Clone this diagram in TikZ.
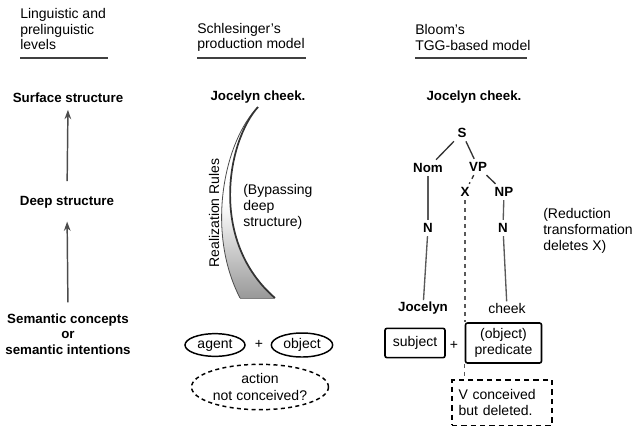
\documentclass[tikz,border=0pt]{standalone}
\usepackage{fontspec}
\setmainfont{Liberation Sans}
\usetikzlibrary{arrows.meta,shapes.geometric}
\begin{document}
\begin{tikzpicture}[x=0.75pt,y=-0.75pt,
  txt/.style={font=\fontsize{10.5}{11.8}\selectfont, inner sep=1pt},
  heavy/.style={font=\fontsize{10}{11.8}\selectfont\bfseries, inner sep=1pt},
  title/.style={txt, anchor=west, align=left, inner sep=0pt},
  rule/.style={line width=0.9pt, black!75},
  uparrow/.style={line width=1.1pt, black!70, -{Stealth[length=7pt,width=5pt]}},
  tnode/.style={heavy, inner sep=2.5pt},
  branch/.style={line width=1pt, black!80},
  stem/.style={line width=1pt, black!65},
  oval/.style={ellipse, draw, line width=1.1pt, inner sep=0pt, txt},
  plainbox/.style={draw, line width=1.2pt, rounded corners=1.5pt, txt, align=center},
  ghostbox/.style={draw, dashed, line width=1pt, dash pattern=on 4pt off 3pt, txt, align=left}
]
\useasboundingbox (0,0) rectangle (641,426);

% ---------- column headings ----------
\node[title] (t1) at (20,29) {Linguistic and\\prelinguistic\\levels};
\node[title] (t2) at (197,37.5) {Schlesinger's\\production model};
\node[title] (t3) at (415,37.5) {Bloom's\\TGG-based model};
\draw[rule] (20,58) -- (108,58);
\draw[rule] (197,58) -- (306,58);
\draw[rule] (415,58) -- (527,58);

% ---------- levels ----------
\node[heavy] (surf) at (68,98) {Surface structure};
\node[heavy] (deep) at (67,202) {Deep structure};
\node[heavy, align=center] (sem) at (68,334) {Semantic concepts\\or\\semantic intentions};
\draw[uparrow, shorten <=10pt, shorten >=4pt] (deep.north) -- (surf.south);
\draw[uparrow, shorten <=7pt, shorten >=9pt] (sem.north) -- (deep.south);

% ---------- production model ----------
\node[heavy] (jc2) at (258,97) {Jocelyn cheek.};
\coordinate (tip) at (258,107);
\coordinate (bl) at (240,298);
\coordinate (br) at (275,298);
\shade[top color=white, bottom color=black!40, middle color=white]
  (tip) .. controls (225,140) and (205,230) .. (bl) -- (br)
        .. controls (208,240) and (228,140) .. (tip) -- cycle;
\draw[line width=0.6pt, black!70] (tip) .. controls (225,140) and (205,230) .. (bl);
\draw[line width=1.3pt, black!80] (tip) .. controls (228,140) and (208,240) .. (br);
\draw[line width=0.5pt, black!50] (bl) -- (br);
\node[txt, rotate=90] (rr) at (214,213) {Realization Rules};
\node[title] (byp) at (243,207) {(Bypassing\\deep\\structure)};

\node[oval, minimum width=45pt, minimum height=17pt] (agent) at (215,345) {agent};
\node[txt] (plus2) at (259,344) {+};
\node[oval, minimum width=46pt, minimum height=18pt] (obj) at (302,345) {object};
\node[oval, dashed, dash pattern=on 3pt off 2.5pt, minimum width=90pt, minimum height=34pt, align=center,
      font=\fontsize{10.5}{12.8}\selectfont] (act) at (260,387) {action\\not conceived?};

% ---------- TGG-based model ----------
\node[heavy] (jc3) at (474,97) {Jocelyn cheek.};
\node[tnode] (S) at (462,133) {S};
\node[tnode] (Nom) at (428,168) {Nom};
\node[tnode] (VP) at (478,167) {VP};
\node[tnode] (X) at (465,192) {X};
\node[tnode] (NP) at (504,192) {NP};
\node[tnode] (N1) at (428,228) {N};
\node[tnode] (N2) at (503,228) {N};
\node[heavy] (Joc) at (423,308) {Jocelyn};
\node[txt] (chk) at (507,308) {cheek};

\draw[branch] (S) -- (Nom);
\draw[branch] (S) -- (VP);
\draw[branch, dashed] (VP) -- (X);
\draw[branch] (VP) -- (NP);
\draw[stem] (Nom) -- (N1);
\draw[stem] (N1) -- (Joc);
\draw[stem] (NP) -- (N2);
\draw[stem] (N2) -- (chk);

\node[title] (red) at (543,231) {(Reduction\\transformation\\deletes X)};

\node[plainbox, minimum width=45pt, minimum height=22pt] (subj) at (415,343) {subject};
\node[txt] (plus3) at (454,345) {+};
\node[plainbox, minimum width=57pt, minimum height=30pt, inner sep=0pt] (pred) at (503.5,343) {(object)\\predicate};
\node[ghostbox, minimum width=75pt, minimum height=34pt, text width=65pt, inner xsep=5pt] (vbox) at (502,402.5) {V conceived\\but deleted.};

\draw[stem, dashed, dash pattern=on 3pt off 3pt] (X) -- (X |- pred.north);
\draw[stem, dashed, dash pattern=on 3pt off 3pt] (pred.south west) -- (pred.south west |- vbox.north);
\end{tikzpicture}
\end{document}
